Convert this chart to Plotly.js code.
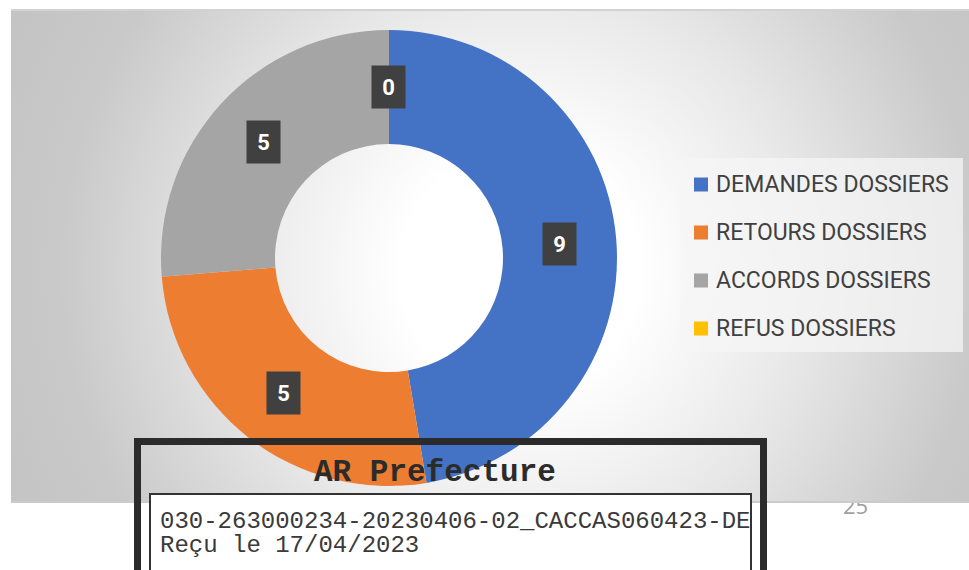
<!DOCTYPE html>
<html>
<head>
<meta charset="utf-8">
<script src="https://cdn.plot.ly/plotly-3.0.1.min.js"></script>
<style>
  body { margin: 0; background: #fff; width: 969px; height: 570px; overflow: hidden; position: relative; }
  #pagenum { position: absolute; left: 843px; top: 490px; font: 22px "Open Sans", sans-serif; color: #a0a0a0; z-index: 0; }
  #slide {
    position: absolute; left: 11px; top: 9px; width: 970px; height: 490px; z-index: 1;
    border-top: 2px solid #d2d2d2; border-bottom: 2px solid #cbcbcb;
    background: radial-gradient(circle at 509px 260px, #ffffff 0px, #ffffff 120px, #e7e7e7 290px, #c9c9c9 460px, #c2c2c2 600px);
  }
  #plot { position: absolute; left: 0; top: 0; width: 969px; height: 570px; z-index: 2; }
</style>
</head>
<body>
<div id="pagenum">25</div>
<div id="slide"></div>
<div id="plot"></div>
<script>
var categories = ['DEMANDES DOSSIERS', 'RETOURS DOSSIERS', 'ACCORDS DOSSIERS', 'REFUS DOSSIERS'];
var values = [9, 5, 5, 0];
var colors = ['#4472C4', '#ED7D31', '#A5A5A5', '#FFC000'];
var stampTitle = 'AR Prefecture';
var stampLines = ['030-263000234-20230406-02_CACCAS060423-DE', 'Reçu le 17/04/2023'];

var W = 969, H = 570;
// pie geometry in pixels
var cx = 389, cy = 258, R = 228, hole = 0.5;

function px(x) { return x / W; }
function py(y) { return 1 - y / H; }

var trace = {
    type: 'pie',
    labels: categories,
    values: values,
    hole: hole,
    sort: false,
    direction: 'clockwise',
    rotation: 0,
    textinfo: 'none',
    hoverinfo: 'skip',
    showlegend: false,
    marker: { colors: colors, line: { width: 0 } },
    domain: { x: [px(cx - R), px(cx + R)], y: [py(cy + R), py(cy - R)] }
};

var shapes = [];
var annotations = [];

// data labels at the middle of each slice
var total = values.reduce(function(a, b) { return a + b; }, 0);
var cum = 0;
var rMid = R * (1 + hole) / 2;
values.forEach(function(v) {
    var mid = (cum + v / 2) / total * 2 * Math.PI;
    cum += v;
    annotations.push({
        xref: 'paper', yref: 'paper',
        x: px(cx + rMid * Math.sin(mid)), y: py(cy - rMid * Math.cos(mid)),
        xanchor: 'center', yanchor: 'middle',
        text: '<b>' + v + '</b>', showarrow: false,
        width: 31, height: 40,
        bgcolor: '#404040',
        font: { family: 'Roboto, sans-serif', size: 22, color: '#ffffff' }
    });
});

// legend
shapes.push({
    type: 'rect', xref: 'paper', yref: 'paper', layer: 'below',
    x0: px(680), x1: px(963), y0: py(352), y1: py(158),
    fillcolor: 'rgba(246,246,246,0.75)', line: { width: 0 }
});
categories.forEach(function(c, i) {
    var yy = 184.5 + 48 * i;
    shapes.push({
        type: 'rect', xref: 'paper', yref: 'paper',
        x0: px(694), x1: px(708), y0: py(yy + 7), y1: py(yy - 7),
        fillcolor: colors[i], line: { width: 0 }
    });
    annotations.push({
        xref: 'paper', yref: 'paper', x: px(714), y: py(yy),
        xanchor: 'left', yanchor: 'middle', showarrow: false,
        text: c, font: { family: 'Roboto, sans-serif', size: 23, color: '#404040' }
    });
});

// stamp boxes
shapes.push({
    type: 'rect', xref: 'paper', yref: 'paper', layer: 'above',
    x0: px(137.5), x1: px(763.5), y0: py(620), y1: py(441.5),
    fillcolor: 'rgba(0,0,0,0)', line: { width: 7, color: '#2b2b2b' }
});
shapes.push({
    type: 'rect', xref: 'paper', yref: 'paper', layer: 'above',
    x0: px(150), x1: px(751), y0: py(620), y1: py(494),
    fillcolor: '#ffffff', line: { width: 2, color: '#333333' }
});
annotations.push({
    xref: 'paper', yref: 'paper', x: px(435), y: py(472),
    xanchor: 'center', yanchor: 'middle', showarrow: false,
    text: '<b>' + stampTitle + '</b>',
    font: { family: '"Courier New", "Liberation Mono", monospace', size: 31, color: '#2b2b2b' }
});
stampLines.forEach(function(t, i) {
    annotations.push({
        xref: 'paper', yref: 'paper', x: px(158), y: py(521 + 24 * i),
        xanchor: 'left', yanchor: 'middle', showarrow: false,
        text: t,
        font: { family: '"Courier New", "Liberation Mono", monospace', size: 24, color: '#3a3a3a' }
    });
});

var layout = {
    width: W, height: H,
    margin: { l: 0, r: 0, t: 0, b: 0 },
    paper_bgcolor: 'rgba(0,0,0,0)',
    plot_bgcolor: 'rgba(0,0,0,0)',
    showlegend: false,
    shapes: shapes,
    annotations: annotations
};

Plotly.newPlot('plot', [trace], layout, { displayModeBar: false, staticPlot: true });
</script>
</body>
</html>
